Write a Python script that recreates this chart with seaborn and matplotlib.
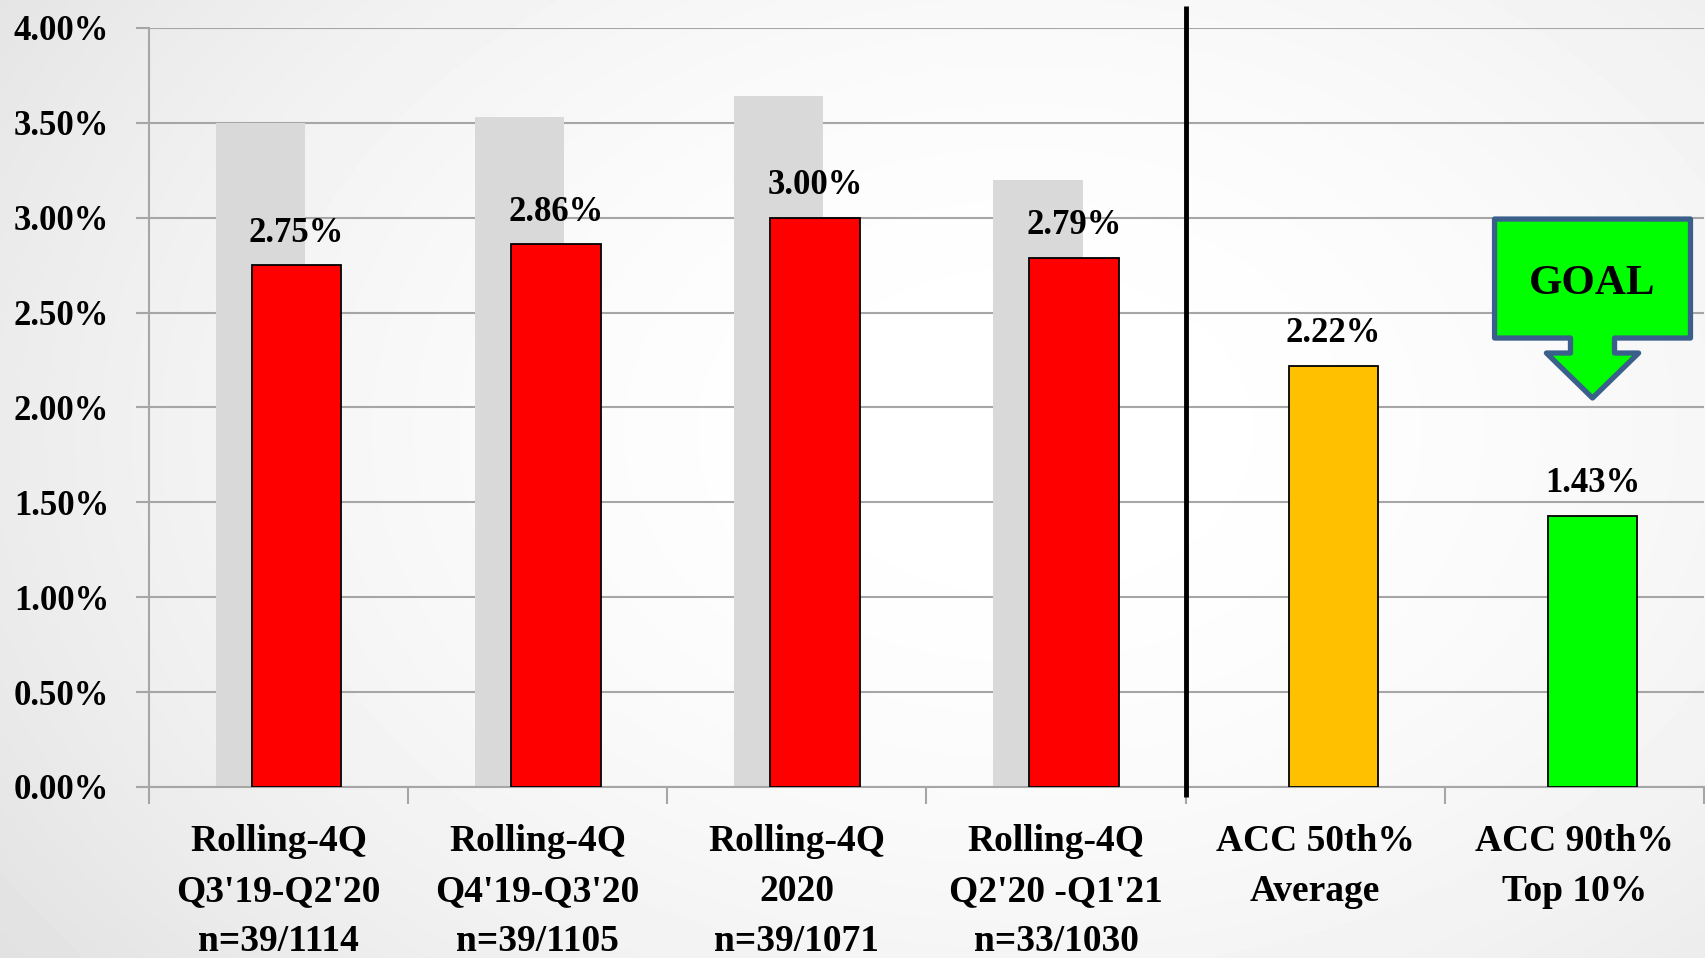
import numpy as np
import pandas as pd
import matplotlib
matplotlib.use("Agg")
import matplotlib.pyplot as plt
import seaborn as sns
from matplotlib.patches import Polygon

# ---- data -------------------------------------------------------------
categories = [
    "Rolling-4Q\nQ3'19-Q2'20\nn=39/1114",
    "Rolling-4Q\nQ4'19-Q3'20\nn=39/1105",
    "Rolling-4Q\n2020\nn=39/1071",
    "Rolling-4Q\nQ2'20 -Q1'21\nn=33/1030",
    "ACC 50th%\nAverage",
    "ACC 90th%\nTop 10%",
]
prior_values = [3.50, 3.53, 3.64, 3.20, np.nan, np.nan]   # grey shadow bars
rate_values = [2.75, 2.86, 3.00, 2.79, 2.22, 1.43]        # coloured bars
bar_colors = ["#FF0000", "#FF0000", "#FF0000", "#FF0000", "#FFC000", "#00FF00"]
y_ticks = [0.0, 0.5, 1.0, 1.5, 2.0, 2.5, 3.0, 3.5, 4.0]
goal_label = "GOAL"

df = pd.DataFrame({"category": categories, "prior": prior_values, "rate": rate_values})

# ---- style ------------------------------------------------------------
sns.set_theme(style="white")
plt.rcParams["font.family"] = ["Liberation Serif", "DejaVu Serif"]
plt.rcParams["font.weight"] = "bold"
plt.rcParams["text.color"] = "black"
plt.rcParams["xtick.labelcolor"] = "black"
plt.rcParams["ytick.labelcolor"] = "black"

W, H, DPI = 17.06, 9.58, 100
fig = plt.figure(figsize=(W, H), dpi=DPI)

# soft radial background
bg = fig.add_axes([0, 0, 1, 1], zorder=-10)
gx, gy = np.meshgrid(np.linspace(0, 1, 400), np.linspace(0, 1, 240))
r = np.sqrt(((gx - 0.6) / 0.75) ** 2 + ((gy - 0.45) / 0.95) ** 2)
shade = 1.0 - 0.12 * np.clip(r, 0, 1.3) ** 2
bg.imshow(shade, cmap="gray", vmin=0, vmax=1, aspect="auto", extent=[0, 1, 0, 1],
          origin="upper", interpolation="bilinear")
bg.set_axis_off()

ax = fig.add_axes([0.0873, 0.1785, 0.9115, 0.7923])
ax.patch.set_alpha(0)

bar_w = 0.345
shift = 0.07

sns.barplot(data=df, x="category", y="prior", order=categories, color="#D9D9D9",
            saturation=1, width=bar_w, errorbar=None, linewidth=0, ax=ax)
n_prior = len(ax.patches)
sns.barplot(data=df, x="category", y="rate", order=categories, hue="category",
            hue_order=categories, palette=bar_colors, saturation=1, dodge=False,
            legend=False, width=bar_w, errorbar=None, edgecolor="black",
            linewidth=1.3, ax=ax)

prior_patches = ax.patches[:n_prior]
rate_patches = ax.patches[n_prior:]
for p in prior_patches:
    p.set_x(p.get_x() - shift)
for p in rate_patches:
    p.set_x(p.get_x() + shift)
    p.set_zorder(3)

# value labels on the coloured bars
for p in rate_patches:
    h = p.get_height()
    if np.isnan(h) or h == 0:
        continue
    ax.annotate(f"{h:.2f}%", (p.get_x() + p.get_width() / 2, h),
                xytext=(0, 17), textcoords="offset points", color="black",
                ha="center", va="baseline", fontsize=25, fontweight="bold")

# axes
grid_c = "#A6A6A6"
ax.set_ylim(0, 4)
ax.set_xlim(-0.5, len(categories) - 0.5)
ax.set_yticks(y_ticks)
ax.set_yticklabels([f"{t:.2f}%" for t in y_ticks], fontsize=25, fontweight="bold")
ax.yaxis.grid(True, color=grid_c, linewidth=1.5)
ax.set_axisbelow(True)
ax.tick_params(axis="y", length=9.5, width=1.5, color=grid_c, pad=19, left=True,
               labelcolor="black")

ax.set_xticks(np.arange(len(categories) + 1) - 0.5)
ax.set_xticklabels([])
ax.set_xticks(np.arange(len(categories)), minor=True)
ax.set_xticklabels(categories, minor=True, fontsize=27, fontweight="bold",
                   linespacing=1.55)
ax.tick_params(axis="x", which="major", length=12, width=1.5, color=grid_c, bottom=True)
ax.tick_params(axis="x", which="minor", length=0, pad=27, labelcolor="black")
ax.set_xlabel("")
ax.set_ylabel("")

for side in ("top", "right"):
    ax.spines[side].set_visible(False)
for side in ("left", "bottom"):
    ax.spines[side].set_color(grid_c)
    ax.spines[side].set_linewidth(1.5)

# separator between the trailing periods and the benchmarks
ax.plot([3.5, 3.5], [-0.053, 4.116], color="black", linewidth=3.5,
        clip_on=False, zorder=6, solid_capstyle="butt")

# GOAL call-out arrow above the top-10% bar
goal_patch = rate_patches[-1]
cx = goal_patch.get_x() + goal_patch.get_width() / 2
top, body_bottom, wing_y, tip_y = 2.993, 2.366, 2.287, 2.050
half_body, half_stem, half_wing = 0.378, 0.085, 0.178
pts = [
    (cx - half_body, top), (cx + half_body, top), (cx + half_body, body_bottom),
    (cx + half_stem, body_bottom), (cx + half_stem, wing_y), (cx + half_wing, wing_y),
    (cx, tip_y), (cx - half_wing, wing_y), (cx - half_stem, wing_y),
    (cx - half_stem, body_bottom), (cx - half_body, body_bottom),
]
ax.add_patch(Polygon(pts, closed=True, facecolor="#00FF00", edgecolor="#3A5F8B",
                     linewidth=3.8, joinstyle="round", zorder=7, clip_on=False))
ax.text(cx, 2.65, goal_label, ha="center", va="center", fontsize=31,
        fontweight="bold", color="black", zorder=8)

fig.savefig("out.png", dpi=DPI)
